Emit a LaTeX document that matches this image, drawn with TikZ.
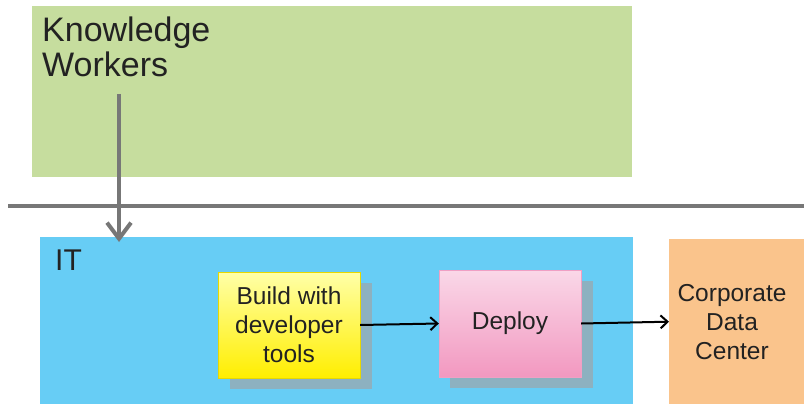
\documentclass[tikz,border=0pt]{standalone}
\usepackage{fontspec}
\setmainfont{Liberation Sans}
\usetikzlibrary{arrows.meta}
\definecolor{kwgreen}{HTML}{C6DD9E}
\definecolor{itblue}{HTML}{67CDF5}
\definecolor{dcorange}{HTML}{FAC48C}
\definecolor{shadowc}{HTML}{8DB1C0}
\definecolor{linegray}{HTML}{777777}
\definecolor{ylight}{HTML}{FFFFA8}
\definecolor{ydark}{HTML}{FFEE00}
\definecolor{ybord}{HTML}{E8D800}
\definecolor{plight}{HTML}{FAD8E8}
\definecolor{pdark}{HTML}{F298C0}
\definecolor{pbord}{HTML}{F0A0C4}
\definecolor{textc}{HTML}{222222}
\begin{document}
\begin{tikzpicture}[x=1pt,y=-1pt,
  bigtext/.style={font=\fontsize{34}{35}\selectfont,text=textc,align=left,anchor=north west,inner sep=0pt},
  midtext/.style={font=\fontsize{30}{32}\selectfont,text=textc,anchor=north west,inner sep=0pt},
  smalltext/.style={font=\fontsize{24.5}{29}\selectfont,text=textc,align=center},
  flow/.style={draw=black,line width=2pt,-{Straight Barb[length=7pt,width=13pt,line width=2pt]}},
]
\useasboundingbox (0,0) rectangle (804,404);
% regions
\fill[kwgreen] (32,6) rectangle (632,177);
\fill[itblue] (40,237) rectangle (633,404);
\fill[dcorange] (669,239) rectangle (804,404);
% separator line
\draw[linegray,line width=3.5pt] (8,206) -- (804,206);
% labels
\node[bigtext] (kw) at (42,17) {Knowledge\\Workers};
\node[midtext] (it) at (55,250) {IT};
% shadows
\fill[shadowc] (230,283) rectangle (372,389);
\fill[shadowc] (450,281) rectangle (593,388);
% boxes
\shade[top color=ylight,bottom color=ydark] (218,272) rectangle (360,378);
\draw[ybord,line width=0.8pt] (218,272) rectangle (360,378);
\node[smalltext,minimum width=142pt,minimum height=106pt,inner sep=0pt] (build) at (289,325) {Build with\\developer\\tools};
\shade[top color=plight,bottom color=pdark] (439,270) rectangle (581,377);
\draw[pbord,line width=0.8pt] (439,270) rectangle (581,377);
\node[smalltext,minimum width=142pt,minimum height=107pt,inner sep=0pt] (deploy) at (510,323.5) {Deploy};
\node[minimum width=135pt,minimum height=165pt,inner sep=0pt,anchor=north west] (dc) at (669,239) {};
\node[smalltext] (dctext) at (732,322) {Corporate\\Data\\Center};
% connectors
\coordinate (kwstart) at (119,94);
\coordinate (itend) at (119,242);
\draw[linegray,line width=4pt,-{Straight Barb[length=16pt,width=24pt,line width=4pt]}] (kwstart) -- (itend);
\draw[flow] (build.east) -- (deploy.west);
\draw[flow] (deploy.east) -- (dc.west);
\end{tikzpicture}
\end{document}
